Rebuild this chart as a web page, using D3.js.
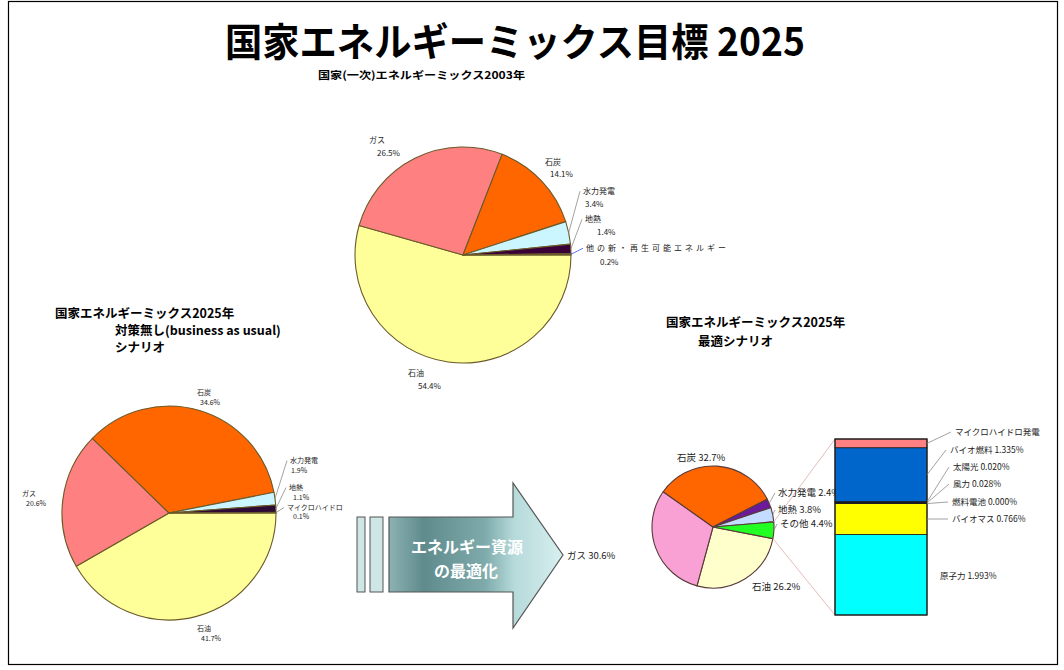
<!DOCTYPE html>
<html>
<head>
<meta charset="utf-8">
<script src="https://cdn.jsdelivr.net/npm/d3@7"></script>
<style>
  html, body { margin: 0; padding: 0; background: #fff; }
  svg { display: block; font-family: "Noto Sans CJK JP", "Noto Sans", sans-serif; }
</style>
</head>
<body>
<svg id="chart" width="1064" height="670"></svg>
<script>
// Primary energy mix, 2003 (percent)
const sources2003 = ["石油", "ガス", "石炭", "水力発電", "地熱", "他の新・再生可能エネルギー"];
const share2003   = [54.4, 26.5, 14.1, 3.4, 1.4, 0.2];

// 2025, business-as-usual scenario (percent)
const sourcesBAU = ["石油", "ガス", "石炭", "水力発電", "地熱", "マイクロハイドロ"];
const shareBAU   = [41.7, 20.6, 34.6, 1.9, 1.1, 0.1];

// 2025, optimal scenario (percent)
const sourcesOpt = ["石油", "ガス", "石炭", "水力発電", "地熱", "その他"];
const shareOpt   = [26.2, 30.6, 32.7, 2.4, 3.8, 4.4];

// Breakdown of "その他" in the optimal scenario, listed bottom to top
const otherSources = ["原子力", "バイオマス", "燃料電池", "風力", "太陽光", "バイオ燃料", "マイクロハイドロ発電"];
const otherShare   = [1.993, 0.766, 0.000, 0.028, 0.020, 1.335, 0.216];

const svg = d3.select("#chart");
const fmt1 = d3.format(".1f");
const fmt3 = d3.format(".3f");

// outer frame
svg.append("rect")
  .attr("x", 8.5).attr("y", 1.5).attr("width", 1049).attr("height", 663)
  .attr("fill", "none").attr("stroke", "#000").attr("stroke-width", 1.2);

// headings
svg.append("text")
  .attr("x", 515).attr("y", 56).attr("text-anchor", "middle")
  .attr("font-size", 39).attr("font-weight", 700)
  .attr("textLength", 580).attr("lengthAdjust", "spacingAndGlyphs")
  .text("国家エネルギーミックス目標 2025");

svg.append("text")
  .attr("x", 318).attr("y", 79).attr("font-size", 10.5).attr("font-weight", 700)
  .attr("textLength", 207).attr("lengthAdjust", "spacingAndGlyphs")
  .text("国家(一次)エネルギーミックス2003年");

const leftHead = svg.append("text").attr("font-size", 12.5).attr("font-weight", 700);
leftHead.append("tspan").attr("x", 55).attr("y", 318).text("国家エネルギーミックス2025年");
leftHead.append("tspan").attr("x", 115).attr("y", 335).text("対策無し(business as usual)");
leftHead.append("tspan").attr("x", 115).attr("y", 352).text("シナリオ");

const rightHead = svg.append("text").attr("font-size", 12.5).attr("font-weight", 700);
rightHead.append("tspan").attr("x", 666).attr("y", 327).text("国家エネルギーミックス2025年");
rightHead.append("tspan").attr("x", 698).attr("y", 346).text("最適シナリオ");

// pie helper
function drawPie(names, values, colors, cx, cy, r, start, stroke) {
  const data = names.map((n, i) => ({ name: n, v: values[i], color: colors[i] }));
  const arcs = d3.pie().sort(null).value(d => d.v)
    .startAngle(start).endAngle(start + 2 * Math.PI)(data);
  const arc = d3.arc().innerRadius(0).outerRadius(r);
  const g = svg.append("g").attr("transform", `translate(${cx},${cy})`);
  g.selectAll("path").data(arcs).join("path")
    .attr("d", arc)
    .attr("fill", d => d.data.color)
    .attr("stroke", stroke).attr("stroke-width", 1.1)
    .attr("stroke-linejoin", "round");
  return arcs.map(a => {
    const m = (a.startAngle + a.endAngle) / 2;
    return { ...a, edge: [cx + r * Math.sin(m), cy - r * Math.cos(m)] };
  });
}

function twoLineLabels(arcs, pos, size, leaders, leaderColors) {
  arcs.forEach((a, i) => {
    const [nx, ny, vx, vy] = pos[i];
    const t = svg.append("text").attr("x", nx).attr("y", ny)
      .attr("font-size", size).attr("fill", "#222").text(a.data.name);
    if (a.data.name.length > 10) t.attr("textLength", 140).attr("lengthAdjust", "spacing");
    svg.append("text").attr("x", vx).attr("y", vy)
      .attr("font-size", size).attr("fill", "#222").text(fmt1(a.data.v) + "%");
    if (leaders.includes(i)) {
      svg.append("line")
        .attr("x1", a.edge[0]).attr("y1", a.edge[1])
        .attr("x2", nx - 3).attr("y2", ny - size * 0.35)
        .attr("stroke", leaderColors[i] || "#8a8a8a").attr("stroke-width", 0.8);
    }
  });
}

// 2003 pie
const colors2003 = ["#ffff99", "#ff8080", "#ff6600", "#ccf6ff", "#3a0038", "#1a1a99"];
const arcs2003 = drawPie(sources2003, share2003, colors2003, 463, 255, 108, Math.PI / 2, "#6b5a2a");
twoLineLabels(arcs2003, [
  [408, 376, 418, 389],
  [369, 143, 377, 156],
  [545, 165, 550, 177],
  [583, 194, 585, 207],
  [585, 222, 597, 235],
  [586, 251, 600, 265]
], 8, [3, 4, 5], { 5: "#3355ff" });

// 2025 business-as-usual pie
const colorsBAU = ["#ffff99", "#ff8080", "#ff6600", "#ccf6ff", "#2d0a33", "#660066"];
const arcsBAU = drawPie(sourcesBAU, shareBAU, colorsBAU, 169, 513, 107, Math.PI / 2, "#6b5a2a");
twoLineLabels(arcsBAU, [
  [197, 631, 201, 641],
  [22, 496, 26, 506],
  [197, 395, 200, 405],
  [290, 463, 291, 473],
  [289, 490, 293, 500],
  [287, 510, 293, 519]
], 7, [3, 4, 5], {});

// arrow: "エネルギー資源の最適化"
const defs = svg.append("defs");
const grad = defs.append("linearGradient").attr("id", "arrowFill")
  .attr("x1", 0).attr("x2", 1).attr("y1", 0).attr("y2", 0);
[[0, "#8db2b3"], [0.2, "#5f8b8d"], [0.55, "#7eaaab"], [0.72, "#b6dada"], [1, "#d8efef"]]
  .forEach(([o, c]) => grad.append("stop").attr("offset", o).attr("stop-color", c));

const arrow = { x0: 389, neck: 513, tip: 563, y0: 517, y1: 592, top: 483, bot: 628, mid: 555 };
const ap = d3.path();
ap.moveTo(arrow.x0, arrow.y0);
ap.lineTo(arrow.neck, arrow.y0);
ap.lineTo(arrow.neck, arrow.top);
ap.lineTo(arrow.tip, arrow.mid);
ap.lineTo(arrow.neck, arrow.bot);
ap.lineTo(arrow.neck, arrow.y1);
ap.lineTo(arrow.x0, arrow.y1);
ap.closePath();
svg.append("path").attr("d", ap.toString())
  .attr("fill", "url(#arrowFill)").attr("stroke", "#555").attr("stroke-width", 1.2);

[[357, 365], [370, 383]].forEach(([a, b]) => {
  svg.append("rect").attr("x", a).attr("y", arrow.y0).attr("width", b - a).attr("height", arrow.y1 - arrow.y0)
    .attr("fill", "#cfe6e6").attr("stroke", "#555").attr("stroke-width", 1);
});

const arrowText = svg.append("text").attr("text-anchor", "middle")
  .attr("font-size", 16).attr("font-weight", 700).attr("fill", "#fff");
arrowText.append("tspan").attr("x", 467).attr("y", 553).text("エネルギー資源");
arrowText.append("tspan").attr("x", 466).attr("y", 577).text("の最適化");

// 2025 optimal pie
const colorsOpt = ["#ffffcc", "#f9a0d4", "#ff6600", "#6a1a9a", "#c4dcff", "#22ff22"];
const optCx = 713, optCy = 527, optR = 61;
const arcsOpt = drawPie(sourcesOpt, shareOpt, colorsOpt, optCx, optCy, optR,
  Math.PI / 2 + 11 * Math.PI / 180, "#5a3a3a");

// connectors from the "その他" slice to its breakdown bar
const bar = { x0: 835, x1: 927, bottom: 615, top: 439 };
const otherArc = arcsOpt[5];
[[otherArc.startAngle, bar.top], [otherArc.endAngle, bar.bottom]].forEach(([ang, yy]) => {
  svg.append("line")
    .attr("x1", optCx + optR * Math.sin(ang)).attr("y1", optCy - optR * Math.cos(ang))
    .attr("x2", bar.x0).attr("y2", yy)
    .attr("stroke", "#e0b4b4").attr("stroke-width", 0.9);
});

const optPos = [[752, 590], [567, 559], [677, 461], [778, 496], [778, 513], [780, 527]];
arcsOpt.forEach((a, i) => {
  const [x, y] = optPos[i];
  svg.append("text").attr("x", x).attr("y", y).attr("font-size", 9.5).attr("fill", "#222")
    .text(`${a.data.name} ${fmt1(a.data.v)}%`);
  if (i >= 3) {
    svg.append("line").attr("x1", a.edge[0]).attr("y1", a.edge[1])
      .attr("x2", x - 3).attr("y2", y - 3)
      .attr("stroke", "#8a8a8a").attr("stroke-width", 0.8);
  }
});

// breakdown bar of "その他"
const yBar = d3.scaleLinear().domain([0, d3.sum(otherShare)]).range([bar.bottom, bar.top]);
const cum = [0, ...d3.cumsum(otherShare)];
const barColors = ["#00ffff", "#ffff00", "#000000", "#1a1a66", "#0a0a40", "#0066cc", "#ff8080"];
const segs = otherSources.map((s, i) => ({ name: s, v: otherShare[i], lo: cum[i], hi: cum[i + 1], color: barColors[i] }));

svg.append("g").selectAll("rect").data(segs).join("rect")
  .attr("x", bar.x0).attr("width", bar.x1 - bar.x0)
  .attr("y", d => yBar(d.hi))
  .attr("height", d => yBar(d.lo) - yBar(d.hi))
  .attr("fill", d => d.color)
  .attr("stroke", "#1a1a1a").attr("stroke-width", 0.8);
svg.append("rect").attr("x", bar.x0).attr("y", bar.top)
  .attr("width", bar.x1 - bar.x0).attr("height", bar.bottom - bar.top)
  .attr("fill", "none").attr("stroke", "#222").attr("stroke-width", 1.2);

// bar labels: [x, baseline] in the same order as otherSources
const barLabelPos = [[940, 579], [952, 522], [952, 505], [953, 487], [953, 470], [950, 453], [955, 435]];
segs.forEach((d, i) => {
  const [x, y] = barLabelPos[i];
  const label = i === segs.length - 1 ? d.name : `${d.name} ${fmt3(d.v)}%`;
  svg.append("text").attr("x", x).attr("y", y).attr("font-size", 8.5).attr("fill", "#222").text(label);
  if (i > 0) {
    svg.append("line")
      .attr("x1", bar.x1).attr("y1", yBar((d.lo + d.hi) / 2))
      .attr("x2", x - 4).attr("y2", y - 3)
      .attr("stroke", "#8a8a8a").attr("stroke-width", 0.8);
  }
});
</script>
</body>
</html>
